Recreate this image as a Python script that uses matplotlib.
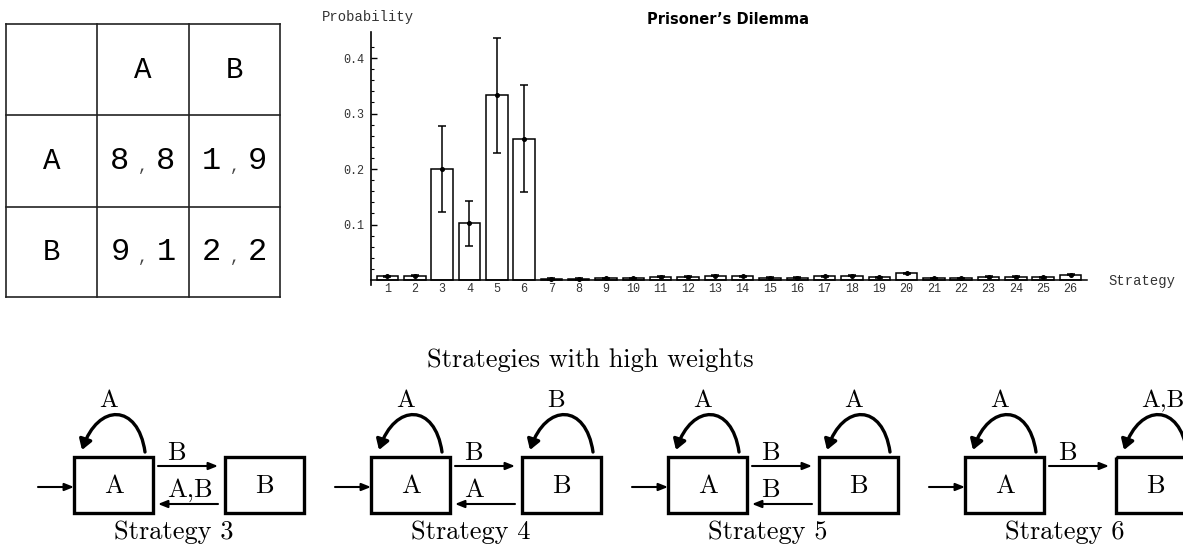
import numpy as np
import matplotlib
matplotlib.use("Agg")
import matplotlib.pyplot as plt
from matplotlib.patches import Rectangle, FancyArrowPatch
from matplotlib.path import Path

# strategy weights with their spread
strategies = list(range(1, 27))
probability = [0.007, 0.008, 0.200, 0.102, 0.333, 0.255, 0.002, 0.002, 0.003,
               0.003, 0.006, 0.006, 0.008, 0.007, 0.004, 0.004, 0.007, 0.008,
               0.005, 0.012, 0.003, 0.003, 0.006, 0.006, 0.005, 0.010]
spread = [0.001, 0.001, 0.078, 0.040, 0.104, 0.096] + [0.001] * 20

# payoff matrix of the game
moves = ["A", "B"]
payoff_row = [[8, 1], [9, 2]]
payoff_col = [[8, 9], [1, 2]]

# automata of the strategies with high weights
shown = [3, 4, 5, 6]
loop_on_a = ["A", "A", "A", "A"]
loop_on_b = [None, "B", "A", "A,B"]
a_to_b = ["B", "B", "B", "B"]
b_to_a = ["A,B", "A", "B", None]

W, H = 1183, 548
fig = plt.figure(figsize=(W / 100, H / 100), dpi=100)

# pixel canvas for the table, labels and automata
canvas = fig.add_axes([0, 0, 1, 1])
canvas.set_xlim(0, W)
canvas.set_ylim(H, 0)
canvas.axis("off")

mono = "Liberation Mono"
serif = "cmr10"

# ---- payoff table
xs = [6, 97, 189, 280]
ys = [24, 115, 207, 297]
for x in xs:
    canvas.plot([x, x], [ys[0], ys[-1]], color="#222222", lw=1.2, solid_capstyle="projecting")
for y in ys:
    canvas.plot([xs[0], xs[-1]], [y, y], color="#222222", lw=1.2, solid_capstyle="projecting")

mid_x = [(xs[i] + xs[i + 1]) / 2 for i in range(3)]
mid_y = [(ys[i] + ys[i + 1]) / 2 for i in range(3)]
for j, m in enumerate(moves):
    canvas.text(mid_x[j + 1], mid_y[0], m, ha="center", va="center", family=mono, size=21)
    canvas.text(mid_x[0], mid_y[j + 1], m, ha="center", va="center", family=mono, size=21)
for i in range(2):
    for j in range(2):
        cx, cy = mid_x[j + 1], mid_y[i + 1]
        canvas.text(cx - 23, cy, str(payoff_row[i][j]), ha="center", va="center", family=mono, size=23)
        canvas.text(cx, cy + 10, ",", ha="center", va="baseline", family=mono, size=12, color="#444444")
        canvas.text(cx + 23, cy, str(payoff_col[i][j]), ha="center", va="center", family=mono, size=23)

# ---- bar chart
ax = fig.add_axes([371 / W, 1 - 285 / H, (1087 - 371) / W, (285 - 32) / H])
ax.patch.set_alpha(0)
ax.bar(strategies, probability, width=0.79, color="white", edgecolor="black",
       linewidth=1.1, zorder=2)
ax.errorbar(strategies, probability, yerr=spread, fmt="o", ms=2.6, color="black",
            elinewidth=1.1, capsize=2.6, capthick=1.1, zorder=3)
ax.set_xlim(0.4, 26.6)
ax.set_ylim(-0.0089, 0.447)
ax.spines[["top", "right"]].set_visible(False)
ax.spines["bottom"].set_position(("data", 0))
ax.spines["left"].set_linewidth(1.2)
ax.spines["bottom"].set_linewidth(1.1)

ax.set_yticks([0.1, 0.2, 0.3, 0.4])
ax.set_yticklabels([f"{v:.1f}" for v in [0.1, 0.2, 0.3, 0.4]])
ax.set_yticks([v for v in np.arange(0.02, 0.44, 0.02) if round(v * 50) % 5], minor=True)
ax.tick_params(axis="y", which="major", direction="in", length=4, width=1, pad=5)
ax.tick_params(axis="y", which="minor", direction="in", length=2.5, width=0.8)
ax.set_xticks(strategies)
ax.set_xticklabels([str(s) for s in strategies])
ax.tick_params(axis="x", length=0, pad=2)
for lab in ax.get_xticklabels() + ax.get_yticklabels():
    lab.set_family(mono)
    lab.set_fontsize(8.5)
    lab.set_color("#333333")

canvas.text(322, 17, "Probability", ha="left", va="center", family=mono, size=10, color="#333333")
canvas.text(1108, 281, "Strategy", ha="left", va="center", family=mono, size=10, color="#333333")
canvas.text(728, 19, "Prisoner\u2019s Dilemma", ha="center", va="center",
            family="DejaVu Sans", weight="bold", size=10.5)

# ---- automata
canvas.text(590, 367, "Strategies with high weights", ha="center", va="baseline",
            family=serif, size=19)


def arrow(x1, x2, y):
    canvas.annotate("", xy=(x2, y), xytext=(x1, y),
                    arrowprops=dict(arrowstyle="-|>,head_length=0.55,head_width=0.22",
                                    lw=1.5, color="black", shrinkA=0, shrinkB=0))


def self_loop(x0, label):
    verts = [(x0 + 71, 452), (x0 + 64, 403), (x0 + 24, 403), (x0 + 8, 450)]
    path = Path(verts, [Path.MOVETO, Path.CURVE4, Path.CURVE4, Path.CURVE4])
    canvas.add_patch(FancyArrowPatch(path=path, arrowstyle="-|>,head_length=0.6,head_width=0.38",
                                     mutation_scale=10, lw=2.4, color="black"))
    canvas.text(x0 + 25, 407, label, ha="left", va="baseline", family=serif, size=18)


for k, s in enumerate(shown):
    left = 74 + 297 * k
    for bx, name in [(left, "A"), (left + 151, "B")]:
        canvas.add_patch(Rectangle((bx, 457), 79, 56, fill=False, lw=2.4, edgecolor="black"))
        canvas.text(bx + 39.5, 493, name, ha="center", va="baseline", family=serif, size=19)
    arrow(left - 36, left, 487)
    self_loop(left, loop_on_a[k])
    if loop_on_b[k]:
        self_loop(left + 151, loop_on_b[k])
    if a_to_b[k]:
        arrow(left + 84, left + 144, 466)
        canvas.text(left + 93, 460, a_to_b[k], ha="left", va="baseline", family=serif, size=19)
    if b_to_a[k]:
        arrow(left + 144, left + 84, 504)
        canvas.text(left + 93, 497, b_to_a[k], ha="left", va="baseline", family=serif, size=19)
    canvas.text(left + 100, 539, f"Strategy {s}", ha="center", va="baseline", family=serif, size=19)

fig.savefig("out.png", dpi=100)
